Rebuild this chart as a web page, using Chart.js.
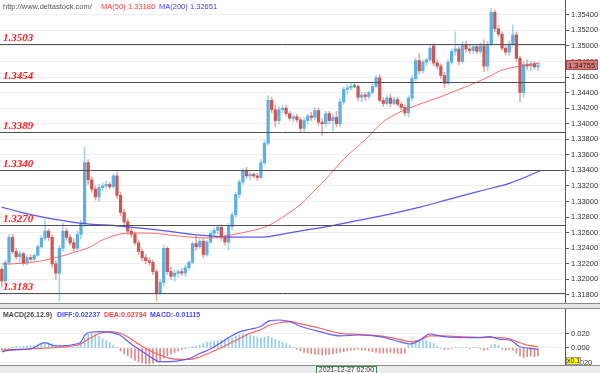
<!DOCTYPE html>
<html><head><meta charset="utf-8">
<script src="https://cdn.jsdelivr.net/npm/chart.js@4.4.1/dist/chart.umd.min.js"></script>
<style>
html,body{margin:0;padding:0;background:#fff;}
#wrap{position:relative;width:600px;height:373px;overflow:hidden;}
canvas{position:absolute;left:0;top:0;}
</style></head><body>
<div id="wrap"><canvas id="main" width="600" height="373"></canvas><canvas id="macd" width="600" height="373"></canvas></div>
<script>
// ---------- DATA ----------
const opens = [1.3213,1.3198,1.3222,1.3254,1.3236,1.3229,1.3233,1.3221,1.3228,1.3226,
1.3231,1.3242,1.3253,1.3262,1.3254,1.3220,1.3208,1.3240,1.3262,1.3254,
1.3247,1.3240,1.3258,1.3272,1.3350,1.3328,1.3316,1.3306,1.3318,1.3320,
1.3322,1.3319,1.3333,1.3308,1.3286,1.3274,1.3262,1.3258,1.3247,1.3236,
1.3228,1.3224,1.3222,1.3210,1.3182,1.3196,1.3240,1.3210,1.3204,1.3208,
1.3210,1.3208,1.3215,1.3222,1.3246,1.3242,1.3249,1.3232,1.3248,1.3259,
1.3263,1.3267,1.3254,1.3248,1.3268,1.3283,1.3309,1.3325,1.3340,1.3333,
1.3335,1.3333,1.3331,1.3350,1.3375,1.3430,1.3418,1.3404,1.3418,1.3420,
1.3413,1.3407,1.3409,1.3405,1.3394,1.3404,1.3410,1.3408,1.3417,1.3402,
1.3400,1.3413,1.3404,1.3408,1.3400,1.3428,1.3444,1.3446,1.3448,1.3448,
1.3434,1.3437,1.3435,1.3440,1.3448,1.3459,1.3430,1.3426,1.3433,1.3426,
1.3431,1.3425,1.3421,1.3414,1.3433,1.3458,1.3481,1.3468,1.3479,1.3482,
1.3500,1.3478,1.3474,1.3462,1.3452,1.3479,1.3493,1.3496,1.3480,1.3502,
1.3496,1.3494,1.3499,1.3493,1.3500,1.3474,1.3502,1.3543,1.3522,1.3515,
1.3497,1.3492,1.3502,1.3514,1.3484,1.3440,1.3476,1.3474,1.3477,1.3473];
const highs = [1.3216,1.3225,1.3258,1.3258,1.3240,1.3236,1.3235,1.3231,1.3232,1.3233,
1.3244,1.3256,1.3277,1.3265,1.3257,1.3224,1.3244,1.3272,1.3266,1.3258,
1.3252,1.3262,1.3276,1.3370,1.3354,1.3332,1.3320,1.3322,1.3324,1.3326,
1.3325,1.3336,1.3338,1.3312,1.3290,1.3278,1.3266,1.3261,1.3250,1.3239,
1.3232,1.3228,1.3225,1.3213,1.3200,1.3244,1.3242,1.3216,1.3212,1.3213,
1.3214,1.3218,1.3224,1.3248,1.3256,1.3252,1.3252,1.3250,1.3262,1.3266,
1.3270,1.3270,1.3257,1.3272,1.3286,1.3312,1.3328,1.3342,1.3344,1.3338,
1.3337,1.3336,1.3354,1.3378,1.3436,1.3434,1.3424,1.3422,1.3424,1.3424,
1.3416,1.3412,1.3412,1.3408,1.3408,1.3412,1.3415,1.3420,1.3420,1.3406,
1.3416,1.3416,1.3412,1.3416,1.3432,1.3447,1.3450,1.3452,1.3451,1.3450,
1.3440,1.3440,1.3442,1.3450,1.3462,1.3463,1.3434,1.3436,1.3438,1.3434,
1.3434,1.3428,1.3424,1.3436,1.3462,1.3484,1.3490,1.3482,1.3484,1.3500,
1.3503,1.3482,1.3477,1.3466,1.3482,1.3496,1.3518,1.3499,1.3506,1.3506,
1.3502,1.3502,1.3502,1.3504,1.3508,1.3506,1.3548,1.3546,1.3526,1.3518,
1.3500,1.3506,1.3527,1.3518,1.3487,1.3480,1.3482,1.3480,1.3480,1.3478];
const lows = [1.3190,1.3195,1.3219,1.3233,1.3226,1.3222,1.3218,1.3219,1.3223,1.3224,
1.3229,1.3240,1.3250,1.3250,1.3215,1.3200,1.3172,1.3236,1.3250,1.3244,
1.3236,1.3238,1.3252,1.3268,1.3322,1.3312,1.3302,1.3300,1.3314,1.3316,
1.3316,1.3317,1.3304,1.3282,1.3270,1.3258,1.3254,1.3244,1.3232,1.3224,
1.3220,1.3218,1.3206,1.3172,1.3180,1.3192,1.3206,1.3200,1.3198,1.3203,
1.3205,1.3204,1.3212,1.3220,1.3238,1.3240,1.3228,1.3230,1.3246,1.3255,
1.3258,1.3250,1.3244,1.3238,1.3264,1.3280,1.3305,1.3322,1.3330,1.3328,
1.3330,1.3327,1.3329,1.3347,1.3372,1.3414,1.3396,1.3400,1.3414,1.3410,
1.3404,1.3402,1.3402,1.3390,1.3390,1.3400,1.3404,1.3406,1.3398,1.3385,
1.3396,1.3400,1.3390,1.3396,1.3396,1.3425,1.3438,1.3443,1.3446,1.3430,
1.3428,1.3430,1.3432,1.3438,1.3446,1.3428,1.3422,1.3424,1.3422,1.3424,
1.3422,1.3418,1.3410,1.3408,1.3430,1.3455,1.3464,1.3465,1.3474,1.3480,
1.3474,1.3470,1.3458,1.3446,1.3450,1.3476,1.3488,1.3476,1.3478,1.3492,
1.3490,1.3490,1.3490,1.3490,1.3467,1.3468,1.3500,1.3518,1.3512,1.3494,
1.3488,1.3488,1.3500,1.3480,1.3428,1.3434,1.3470,1.3468,1.3470,1.3468];
const closes = [1.3198,1.3222,1.3254,1.3236,1.3229,1.3233,1.3221,1.3228,1.3226,1.3231,
1.3242,1.3253,1.3262,1.3254,1.3220,1.3208,1.3240,1.3262,1.3254,1.3247,
1.3240,1.3258,1.3272,1.3350,1.3328,1.3316,1.3306,1.3318,1.3320,1.3322,
1.3319,1.3333,1.3308,1.3286,1.3274,1.3262,1.3258,1.3247,1.3236,1.3228,
1.3224,1.3222,1.3210,1.3182,1.3196,1.3240,1.3210,1.3204,1.3208,1.3210,
1.3208,1.3215,1.3222,1.3246,1.3242,1.3249,1.3232,1.3248,1.3259,1.3263,
1.3267,1.3254,1.3248,1.3268,1.3283,1.3309,1.3325,1.3340,1.3333,1.3335,
1.3333,1.3331,1.3350,1.3375,1.3430,1.3418,1.3404,1.3418,1.3420,1.3413,
1.3407,1.3409,1.3405,1.3394,1.3404,1.3410,1.3408,1.3417,1.3402,1.3400,
1.3413,1.3404,1.3408,1.3400,1.3428,1.3444,1.3446,1.3448,1.3448,1.3434,
1.3437,1.3435,1.3440,1.3448,1.3459,1.3430,1.3426,1.3433,1.3426,1.3431,
1.3425,1.3421,1.3414,1.3433,1.3458,1.3481,1.3468,1.3479,1.3482,1.3497,
1.3478,1.3474,1.3462,1.3452,1.3479,1.3493,1.3496,1.3480,1.3502,1.3496,
1.3494,1.3499,1.3493,1.3500,1.3474,1.3502,1.3543,1.3522,1.3515,1.3497,
1.3492,1.3502,1.3514,1.3484,1.3440,1.3476,1.3474,1.3477,1.3473,1.34755];

const slotCount = 157; // candle slots incl. empty space at the right

const ma50Idx = [0,6.4,13.4,20.3,24.5,27.3,30.1,32.8,37,41.2,46.7,52.3,57.8,63.4,69,73.1,75.9,80.1,82.8,87,89.8,95.3,100.9,105.9,110.6,116.2,121.7,127.3,130,135.6,138.4,142.6,149.5];
const ma50Val = [1.32197,1.32209,1.32261,1.32351,1.32415,1.32492,1.32544,1.32582,1.32595,1.32595,1.32569,1.32544,1.32531,1.32569,1.32621,1.32672,1.32736,1.32865,1.32955,1.33147,1.33276,1.33559,1.33790,1.34021,1.34150,1.34253,1.34342,1.34445,1.34495,1.34610,1.34680,1.34728,1.34780];
const ma200Idx = [0,5.1,11.4,21.7,32.8,43.9,55.1,64.2,72.6,78.1,82.8,91.2,99.5,107.8,116.2,124.5,132.8,141.2,149.5];
const ma200Val = [1.32929,1.32865,1.32801,1.32724,1.32685,1.32634,1.32569,1.32544,1.32544,1.32582,1.32621,1.32685,1.32762,1.32839,1.32929,1.33032,1.33135,1.33237,1.33392];

const levels = [1.3503,1.3454,1.3389,1.3340,1.3270,1.3183];
const priceTicks = [1.318,1.320,1.322,1.324,1.326,1.328,1.330,1.332,1.334,1.336,1.338,1.340,1.342,1.344,1.346,1.348,1.350,1.352,1.354];
const lastPrice = 1.34755;

const histVal = [-0.002,-0.002,-0.001,
0.001,0.002,0.002,0.002,0.003,0.003,0.003,0.004,
0.005,0.006,0.007,0.006,0.004,0.003,
0.002,0.002,0.001,0.001,0.002,
0.006,0.014,0.018,
0.020,0.019,0.016,0.013,0.010,0.008,
0.004,0.001,
-0.004,-0.008,-0.011,
-0.014,-0.017,-0.019,-0.021,-0.022,-0.022,
-0.021,-0.019,-0.017,
-0.014,-0.011,
-0.008,-0.006,-0.004,
-0.002,-0.001,0.001,
0.002,0.003,0.004,
0.006,0.008,0.009,0.010,0.010,
0.011,0.012,0.013,0.014,0.016,0.018,
0.020,0.019,0.017,
0.016,0.015,0.014,0.015,0.016,
0.014,0.012,0.010,0.008,0.006,0.004,
0.001,-0.002,-0.004,
-0.006,-0.007,-0.008,-0.009,-0.009,-0.010,-0.009,-0.009,-0.008,-0.007,-0.006,
-0.005,-0.004,-0.003,-0.003,-0.002,-0.003,-0.003,-0.004,
-0.005,-0.006,-0.007,-0.007,-0.006,-0.006,-0.007,-0.008,-0.008,-0.007,
0.004,0.008,0.010,0.011,0.011,0.010,0.008,0.006,0.003,
-0.001,-0.002,-0.002,-0.001,0.001,0.001,
0.001,0.001,-0.001,0.001,0.001,-0.001,-0.003,-0.002,
0.004,0.005,0.004,-0.002,-0.003,
-0.002,-0.003,-0.007,-0.011,-0.013,-0.012,-0.011,-0.012,-0.011];
const diffIdx = [0,2.3,7.8,12,14.8,21.7,23.1,24.5,27.3,30.1,32.8,35.6,38.4,41.2,43.9,46.7,49.5,52.3,55.1,57.8,60.6,63.4,66.2,69,71.7,74.5,77.3,80.1,82.8,88.4,93.9,99.5,105,110.6,113.4,116.2,118.9,121.7,124.5,132.8,135.6,138.4,141.2,143.9,146.7,149];
const diffVal = [-0.0051,-0.0028,-0.0014,0.0073,0.0028,0.0069,0.0179,0.0217,0.0225,0.0217,0.0179,0.0069,-0.0028,-0.0120,-0.0189,-0.0189,-0.0175,-0.0142,-0.0073,-0.0018,0.0065,0.0156,0.0225,0.0258,0.0294,0.0377,0.0386,0.0363,0.0304,0.0225,0.0166,0.0179,0.0156,0.0087,0.0055,0.0110,0.0193,0.0166,0.0148,0.0142,0.0156,0.0120,0.0110,0.0018,-0.0004,-0.0018];
const deaIdx = [0,5.1,10.6,16.2,21.7,24.5,27.3,30.1,32.8,35.6,38.4,41.2,43.9,46.7,49.5,52.3,55.1,57.8,60.6,63.4,66.2,69,71.7,74.5,77.3,80.1,82.8,88.4,93.9,99.5,105,110.6,113.4,116.2,118.9,121.7,127.3,132.8,138.4,141.2,143.9,146.7,149];
const deaVal = [-0.0028,-0.0018,-0.0004,0.0010,0.0051,0.0134,0.0203,0.0225,0.0203,0.0134,0.0041,-0.0037,-0.0097,-0.0142,-0.0156,-0.0156,-0.0120,-0.0065,-0.0004,0.0065,0.0134,0.0203,0.0248,0.0317,0.0349,0.0363,0.0335,0.0272,0.0203,0.0189,0.0166,0.0120,0.0087,0.0110,0.0166,0.0166,0.0156,0.0148,0.0142,0.0124,0.0073,0.0032,0.0018];
const macdTicks = [-0.02,0,0.02];

const cursorIndex = 88;
const cursorLabel = '2021-12-27 02:00';
const ma50AtCursor = 1.33186, ma200AtCursor = 1.32651;
const diffAtCursor = 0.02237, deaAtCursor = 0.02794, macdAtCursor = -0.01115;

// ---------- STYLE ----------
const UP = '#5cb0e2', DOWN = '#c95858', DOJI = '#44aa55';
const UP_W = 'rgba(92,176,226,0.55)', DOWN_W = 'rgba(201,88,88,0.5)';
const F = '"Liberation Sans", Arial, sans-serif';
Chart.defaults.font.family = F;

const idx = closes.map((c,i)=>i);
const candleColor = (i, up, down) => closes[i] > opens[i] ? up : (closes[i] < opens[i] ? down : DOJI);

const xScale = {type:'linear', display:false, offset:false, min:-0.5, max:slotCount-0.5, grid:{offset:false}};

const mainDecor = {
  id:'mainDecor',
  afterDatasetsDraw(chart){
    const {ctx, chartArea:a, scales:{y}} = chart;
    ctx.save();
    levels.forEach(v=>{
      const py = Math.round(y.getPixelForValue(v))+0.5;
      ctx.strokeStyle='#505050'; ctx.lineWidth=1;
      ctx.beginPath(); ctx.moveTo(a.left,py); ctx.lineTo(a.right,py); ctx.stroke();
      ctx.fillStyle='#ff2222';
      ctx.font='bold italic 11px "Liberation Serif", serif';
      ctx.textAlign='left'; ctx.textBaseline='alphabetic';
      ctx.fillText(v.toFixed(4), 3, py-4);
    });
    ctx.restore();
  },
  afterDraw(chart){
    const {ctx, chartArea:a, scales:{y}} = chart;
    ctx.save();
    ctx.strokeStyle='#555'; ctx.lineWidth=1;
    ctx.beginPath(); ctx.moveTo(a.right+0.5,0); ctx.lineTo(a.right+0.5,a.top); ctx.stroke();
    ctx.font='7.5px '+F; ctx.textBaseline='middle'; ctx.textAlign='left';
    ctx.fillStyle='#555'; ctx.fillText('http://www.deltastock.com/', 3, 7);
    ctx.fillStyle='#ff3b3b'; ctx.fillText('MA(50)', 101, 7); ctx.fillText(ma50AtCursor.toFixed(5), 128, 7);
    ctx.fillStyle='#3c3cff'; ctx.fillText('MA(200)', 159, 7); ctx.fillText(ma200AtCursor.toFixed(5), 190, 7);
    const py = y.getPixelForValue(lastPrice);
    ctx.fillStyle='rgba(214,112,112,0.9)'; ctx.fillRect(a.right+1, py-5, 32, 10);
    ctx.strokeStyle='#b04848'; ctx.strokeRect(a.right+1.5, py-4.5, 31, 9);
    ctx.fillStyle='#222'; ctx.font='7.5px '+F; ctx.textBaseline='middle';
    ctx.fillText(lastPrice.toFixed(5), a.right+3, py+0.5);
    ctx.restore();
  }
};

new Chart(document.getElementById('main'), {
  type:'bar',
  data:{datasets:[
    {type:'line', label:'MA(50)', data: ma50Idx.map((x,k)=>({x, y:ma50Val[k]})), borderColor:'rgba(255,85,85,0.85)', borderWidth:1, pointRadius:0, cubicInterpolationMode:'monotone', order:0},
    {type:'line', label:'MA(200)', data: ma200Idx.map((x,k)=>({x, y:ma200Val[k]})), borderColor:'rgba(70,70,245,0.9)', borderWidth:1.2, pointRadius:0, cubicInterpolationMode:'monotone', order:0},
    {label:'body', data: idx.map(i=>({x:i, y:[opens[i], closes[i]]})), barThickness:2.6, minBarLength:1, grouped:false,
      backgroundColor: c => candleColor(c.dataIndex, UP, DOWN), order:1},
    {label:'wick', data: idx.map(i=>({x:i, y:[lows[i], highs[i]]})), barThickness:1, grouped:false,
      backgroundColor: c => candleColor(c.dataIndex, UP_W, DOWN_W), order:2}
  ]},
  options:{
    responsive:false, animation:false, devicePixelRatio:1, events:[],
    layout:{padding:{top:5, bottom:70, left:0, right:0}},
    plugins:{legend:{display:false}, tooltip:{enabled:false}},
    scales:{
      x: xScale,
      y:{type:'linear', position:'right', min:1.31697, max:1.35525,
        afterBuildTicks: s => { s.ticks = priceTicks.map(v=>({value:v})); },
        afterFit: s => { s.width = 35; s.paddingTop = 0; s.paddingBottom = 0; },
        ticks:{callback: v => Number(v).toFixed(5), color:'#333', font:{size:7.5}, padding:2, autoSkip:false},
        grid:{color:'#eeeeee', tickColor:'#555', tickLength:4},
        border:{color:'#555'}
      }
    }
  },
  plugins:[mainDecor]
});

const macdDecor = {
  id:'macdDecor',
  afterDraw(chart){
    const {ctx, chartArea:a, scales:{x}} = chart;
    ctx.save();
    ctx.fillStyle='#e4e4e4'; ctx.fillRect(0, 303, 600, 6);
    ctx.strokeStyle='#8a8a8a'; ctx.lineWidth=1;
    ctx.beginPath(); ctx.moveTo(0,303.5); ctx.lineTo(600,303.5); ctx.moveTo(0,308.5); ctx.lineTo(600,308.5); ctx.stroke();
    ctx.fillStyle='#ececec'; ctx.fillRect(0, a.bottom, 600, 373-a.bottom);
    ctx.beginPath(); ctx.moveTo(0,a.bottom+0.5); ctx.lineTo(600,a.bottom+0.5); ctx.stroke();
    ctx.font='bold 7px '+F; ctx.textBaseline='middle'; ctx.textAlign='left';
    ctx.fillStyle='#444'; ctx.fillText('MACD(26.12.9)', 3, 315);
    ctx.fillStyle='#4a4aff'; ctx.fillText('DIFF:'+diffAtCursor.toFixed(5), 57, 315);
    ctx.fillStyle='#ff4040'; ctx.fillText('DEA:'+deaAtCursor.toFixed(5), 104, 315);
    ctx.fillStyle='#4a4aff'; ctx.fillText('MACD:'+macdAtCursor.toFixed(5), 150, 315);
    ctx.fillStyle='#ffff00'; ctx.fillRect(a.right+1, 357, 15, 8);
    ctx.strokeStyle='#999'; ctx.strokeRect(a.right+1.5, 357.5, 14, 7);
    ctx.fillStyle='#222'; ctx.font='7px '+F; ctx.fillText('x0.1', a.right+2, 361.5);
    const x0 = Math.round(x.getPixelForValue(cursorIndex)) - 1.5;
    ctx.fillStyle='#f6f6f6'; ctx.fillRect(x0, a.bottom+1, 60, 9);
    ctx.strokeStyle='#3a8a4a'; ctx.strokeRect(x0, a.bottom+1.5, 60, 9);
    ctx.fillStyle='#333'; ctx.font='7px '+F; ctx.textAlign='center';
    ctx.fillText(cursorLabel, x0+30, a.bottom+5.5);
    ctx.restore();
  }
};

new Chart(document.getElementById('macd'), {
  type:'bar',
  data:{datasets:[
    {type:'line', label:'DIFF', data: diffIdx.map((x,k)=>({x, y:diffVal[k]})), borderColor:'rgba(80,80,255,0.9)', borderWidth:1.2, pointRadius:0, cubicInterpolationMode:'monotone', order:0},
    {type:'line', label:'DEA', data: deaIdx.map((x,k)=>({x, y:deaVal[k]})), borderColor:'rgba(255,80,80,0.9)', borderWidth:1.2, pointRadius:0, cubicInterpolationMode:'monotone', order:0},
    {label:'MACD', data: histVal.map((v,i)=>({x:i, y:v})), barThickness:1, grouped:false,
      backgroundColor: c => (histVal[c.dataIndex] >= 0 ? 'rgba(110,185,230,0.75)' : 'rgba(200,90,90,0.7)'), order:1}
  ]},
  options:{
    responsive:false, animation:false, devicePixelRatio:1, events:[],
    layout:{padding:{top:309, bottom:8, left:0, right:0}},
    plugins:{legend:{display:false}, tooltip:{enabled:false}},
    scales:{
      x: xScale,
      y:{type:'linear', position:'right', min:-0.02345, max:0.05379,
        afterBuildTicks: s => { s.ticks = macdTicks.map(v=>({value:v})); },
        afterFit: s => { s.width = 35; s.paddingTop = 0; s.paddingBottom = 0; },
        ticks:{callback: v => Number(v).toFixed(3), color:'#333', font:{size:7.5}, padding:2, autoSkip:false},
        grid:{color:'#eeeeee', tickColor:'#555', tickLength:4},
        border:{color:'#555'}
      }
    }
  },
  plugins:[macdDecor]
});
</script>
</body></html>
